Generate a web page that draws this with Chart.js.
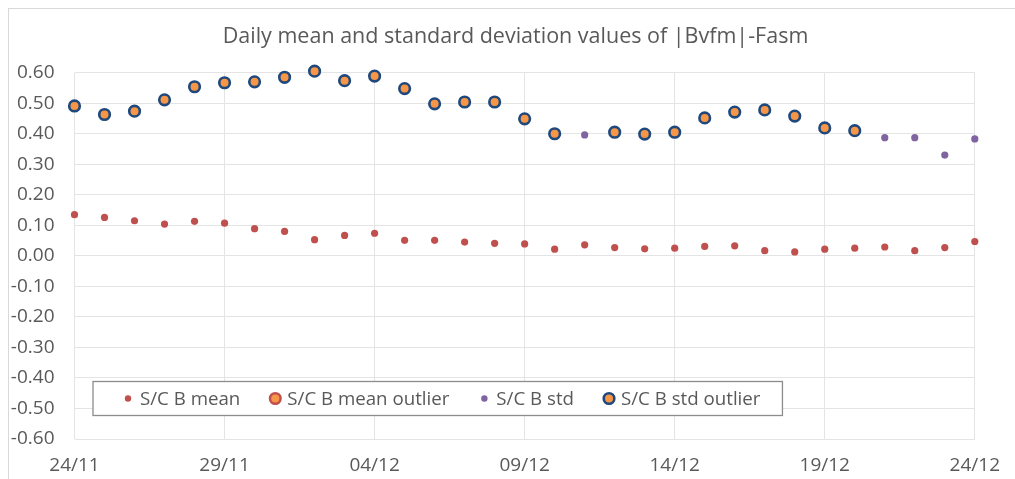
<!DOCTYPE html>
<html>
<head>
<meta charset="utf-8">
<script src="https://cdn.jsdelivr.net/npm/chart.js@4/dist/chart.umd.min.js"></script>
<style>
  html, body { margin: 0; padding: 0; background: #fff; }
  canvas { display: block; }
</style>
</head>
<body>
<canvas id="c" width="1015" height="479"></canvas>
<script>
'use strict';

// dates of the daily values (24/11 .. 24/12)
const days = [
  '24/11', '25/11', '26/11', '27/11', '28/11', '29/11', '30/11', '01/12',
  '02/12', '03/12', '04/12', '05/12', '06/12', '07/12', '08/12', '09/12',
  '10/12', '11/12', '12/12', '13/12', '14/12', '15/12', '16/12', '17/12',
  '18/12', '19/12', '20/12', '21/12', '22/12', '23/12', '24/12',
];

const meanVals = [
  0.135, 0.126, 0.115, 0.104, 0.113, 0.107, 0.089, 0.080, 0.053, 0.067,
  0.074, 0.051, 0.051, 0.045, 0.041, 0.039, 0.022, 0.036, 0.027, 0.023,
  0.025, 0.031, 0.033, 0.017, 0.013, 0.022, 0.025, 0.029, 0.017, 0.027,
  0.047,
];

// no mean outliers in this period
const meanOutlierVals = [];

const stdVals = [
  null, null, null, null, null, null, null, null, null, null,
  null, null, null, null, null, null, null, 0.396, null, null,
  null, null, null, null, null, null, null, 0.387, 0.387, 0.330,
  0.383,
];

const stdOutlierVals = [
  0.491, 0.463, 0.474, 0.511, 0.554, 0.567, 0.570, 0.585, 0.605, 0.574,
  0.589, 0.548, 0.498, 0.504, 0.504, 0.449, 0.400, null, 0.405, 0.399,
  0.405, 0.452, 0.471, 0.478, 0.458, 0.419, 0.410, null, null, null,
  null,
];

const yTicks = [-0.6, -0.5, -0.4, -0.3, -0.2, -0.1, 0, 0.1, 0.2, 0.3, 0.4, 0.5, 0.6];

const TITLE = 'Daily mean and standard deviation values of |Bvfm|-Fasm';
const FONT = '"Open Sans", "Noto Sans", sans-serif';
const TXT = '#595959';
const GRID = '#E4E4E4';

function toPoints(vals) {
  return vals.map((v, i) => ({ x: i, y: v })).filter(p => p.y !== null);
}

// outer frame and title, centred on the frame like the office chart
const framePlugin = {
  id: 'frame',
  beforeDraw(chart) {
    const ctx = chart.ctx;
    ctx.save();
    ctx.fillStyle = '#fff';
    ctx.fillRect(0, 0, chart.width, chart.height);
    ctx.strokeStyle = '#D9D9D9';
    ctx.lineWidth = 1;
    ctx.strokeRect(8.5, 8.5, chart.width + 10, chart.height + 10);

    ctx.font = '21.5px ' + FONT;
    ctx.fillStyle = TXT;
    ctx.textAlign = 'center';
    ctx.textBaseline = 'middle';
    ctx.fillText(TITLE, 515.5, 37);
    ctx.restore();
  },
};

// legend box drawn inside the plot area, bottom left
const boxLegend = {
  id: 'boxLegend',
  afterDatasetsDraw(chart) {
    const ctx = chart.ctx;
    const area = chart.chartArea;
    const left = area.left + 18.5;
    const top = area.bottom - 57.5;
    const h = 34;
    const cy = top + h / 2;
    ctx.save();
    ctx.font = '18.7px ' + FONT;
    ctx.textBaseline = 'middle';

    // measure first to get box width
    let x = left + 35;
    const items = chart.data.datasets.map(ds => {
      const it = { ds, mx: x, tx: x + 12 };
      x = it.tx + ctx.measureText(ds.label).width + 35;
      return it;
    });
    const right = x - 35 + 22;

    ctx.fillStyle = '#fff';
    ctx.fillRect(left, top, right - left, h);
    ctx.strokeStyle = '#8C8C8C';
    ctx.lineWidth = 1.3;
    ctx.strokeRect(left, top, right - left, h);

    items.forEach(({ ds, mx, tx }) => {
      const r = ds.legendRadius;
      ctx.beginPath();
      ctx.arc(mx, cy, r, 0, Math.PI * 2);
      ctx.fillStyle = ds.backgroundColor;
      ctx.fill();
      if (ds.borderWidth) {
        ctx.lineWidth = ds.borderWidth;
        ctx.strokeStyle = ds.borderColor;
        ctx.stroke();
      }
      ctx.fillStyle = TXT;
      ctx.fillText(ds.label, tx, cy + 1);
    });
    ctx.restore();
  },
};

new Chart(document.getElementById('c'), {
  type: 'scatter',
  data: {
    datasets: [
      {
        label: 'S/C B mean',
        data: toPoints(meanVals),
        backgroundColor: '#C0504D',
        borderColor: '#C0504D',
        borderWidth: 0,
        pointRadius: 3.6,
        legendRadius: 3.2,
        clip: false,
      },
      {
        label: 'S/C B mean outlier',
        data: toPoints(meanOutlierVals),
        backgroundColor: '#F79646',
        borderColor: '#C0504D',
        borderWidth: 2.5,
        pointRadius: 5.3,
        legendRadius: 5.3,
        clip: false,
      },
      {
        label: 'S/C B std',
        data: toPoints(stdVals),
        backgroundColor: '#8064A2',
        borderColor: '#8064A2',
        borderWidth: 0,
        pointRadius: 3.6,
        legendRadius: 3.2,
        clip: false,
      },
      {
        label: 'S/C B std outlier',
        data: toPoints(stdOutlierVals),
        backgroundColor: '#F79646',
        borderColor: '#1F497D',
        borderWidth: 2.6,
        pointRadius: 5.3,
        legendRadius: 5.3,
        clip: false,
      },
    ],
  },
  options: {
    responsive: false,
    animation: false,
    layout: { padding: { left: 0, right: 35, top: 72.7, bottom: 0 } },
    plugins: {
      legend: { display: false },
      tooltip: { enabled: false },
      title: { display: false },
    },
    scales: {
      x: {
        type: 'linear',
        min: 0,
        max: days.length - 1,
        afterBuildTicks(scale) {
          scale.ticks = days.map((d, i) => ({ value: i })).filter(t => t.value % 5 === 0);
        },
        afterFit(scale) { scale.height = 40; },
        grid: { color: GRID, drawTicks: false },
        border: { display: false },
        ticks: {
          color: TXT,
          font: { family: FONT, size: 19 },
          padding: 15,
          maxRotation: 0,
          callback: v => days[v],
        },
      },
      y: {
        min: -0.6,
        max: 0.6,
        afterBuildTicks(scale) {
          scale.ticks = yTicks.map(v => ({ value: v }));
        },
        afterFit(scale) { scale.width = 74.5; },
        grid: { color: GRID, drawTicks: false },
        border: { display: false },
        ticks: {
          color: TXT,
          font: { family: FONT, size: 19 },
          padding: 20,
          callback: v => (Math.abs(v) < 1e-9 ? 0 : v).toFixed(2),
        },
      },
    },
  },
  plugins: [framePlugin, boxLegend],
});
</script>
</body>
</html>
